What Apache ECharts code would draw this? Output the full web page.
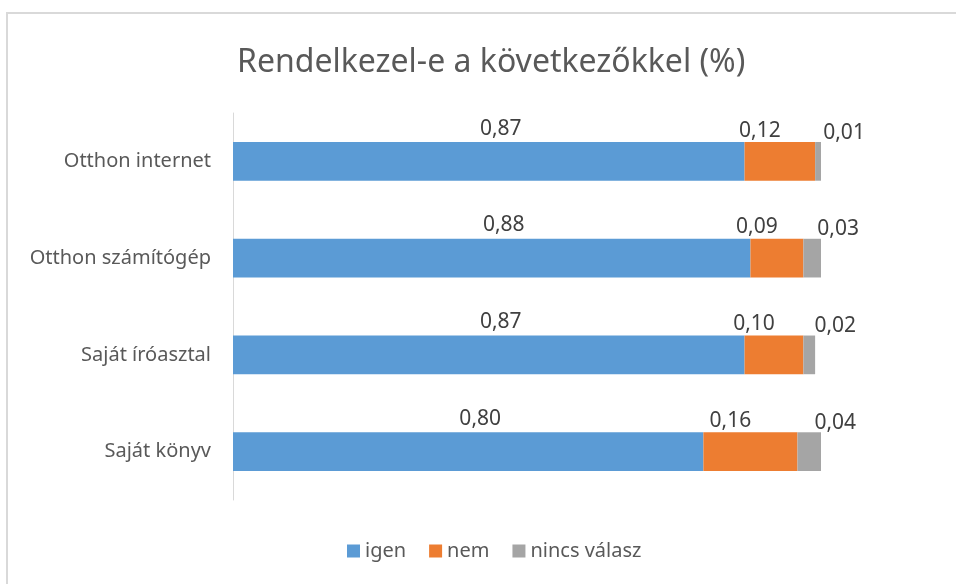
<!DOCTYPE html>
<html>
<head>
<meta charset="utf-8">
<script src="https://cdn.jsdelivr.net/npm/echarts@6/dist/echarts.min.js"></script>
<style>
  html, body { margin: 0; padding: 0; background: #fff; }
  #chart { width: 956px; height: 584px; }
</style>
</head>
<body>
<div id="chart"></div>
<script>
// kategóriák felülről lefelé
const categories = ['Otthon internet', 'Otthon számítógép', 'Saját íróasztal', 'Saját könyv'];
const igen = [0.87, 0.88, 0.87, 0.80];
const nem = [0.12, 0.09, 0.10, 0.16];
const nincsValasz = [0.01, 0.03, 0.02, 0.04];

const FONT = '"Noto Sans", "Open Sans", sans-serif';
const TEXT = '#595959';

const fmt = p => p.value.toFixed(2).replace('.', ',');

const makeSeries = (name, data, color, offset) => ({
  name: name,
  type: 'bar',
  stack: 'total',
  data: data,
  barCategoryGap: '60%',
  itemStyle: { color: color },
  label: {
    show: true,
    position: 'top',
    distance: 3,
    offset: offset,
    formatter: fmt,
    color: '#404040',
    fontFamily: FONT,
    fontSize: 21
  },
  emphasis: { disabled: true }
});

const chart = echarts.init(document.getElementById('chart'));

chart.setOption({
  animation: false,
  backgroundColor: '#fff',
  title: {
    text: 'Rendelkezel-e a következőkkel (%)',
    left: 232,
    top: 42,
    textStyle: { fontFamily: FONT, fontSize: 32, fontWeight: 'normal', color: TEXT }
  },
  legend: {
    bottom: 18,
    left: 342,
    icon: 'rect',
    itemWidth: 13,
    itemHeight: 13,
    itemGap: 23,
    textStyle: { fontFamily: FONT, fontSize: 20, color: TEXT }
  },
  grid: { left: 233, right: 135, top: 113, bottom: 84 },
  xAxis: {
    type: 'value',
    min: 0,
    max: 1,
    show: false
  },
  yAxis: {
    type: 'category',
    data: categories,
    inverse: true,
    axisLine: { lineStyle: { color: '#d9d9d9', width: 1 } },
    axisTick: { show: false },
    axisLabel: { fontFamily: FONT, fontSize: 20, color: TEXT, margin: 22 }
  },
  graphic: [{
    type: 'rect',
    shape: { x: 7, y: 13, width: 1000, height: 700 },
    style: { fill: 'none', stroke: '#d9d9d9', lineWidth: 2 },
    silent: true
  }],
  series: [
    makeSeries('igen', igen, '#5B9BD5', [12, 0]),
    makeSeries('nem', nem, '#ED7D31', [-20, 2]),
    makeSeries('nincs válasz', nincsValasz, '#A5A5A5', [26, 4])
  ]
});
</script>
</body>
</html>
